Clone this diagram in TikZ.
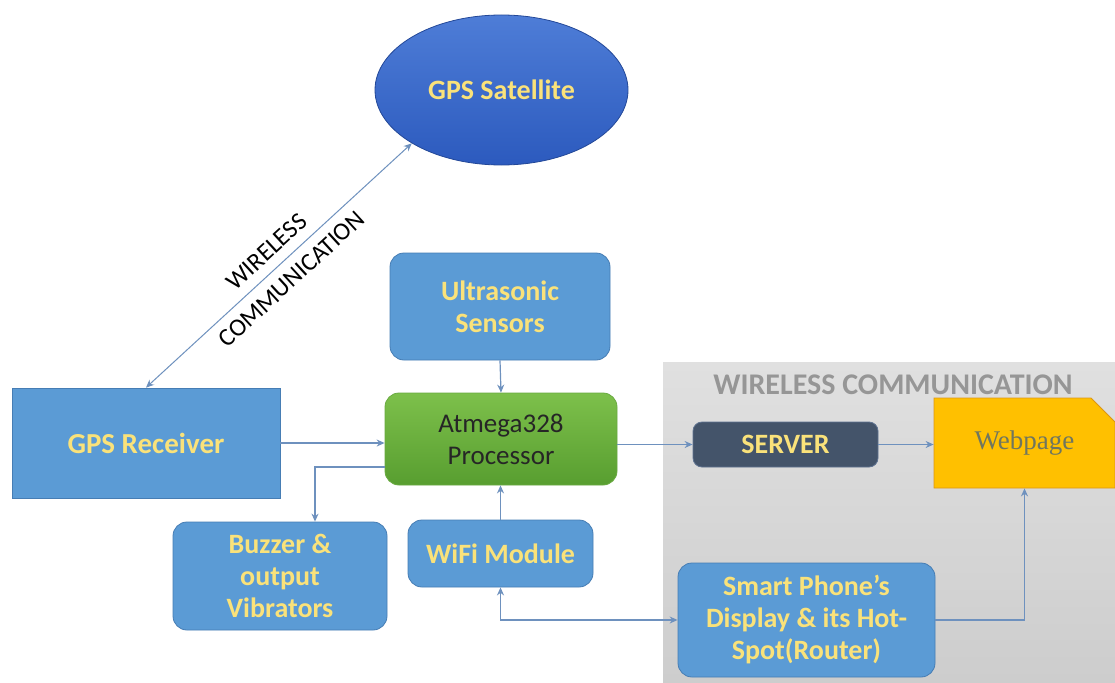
\documentclass[tikz,border=0pt]{standalone}
\usepackage{fontspec}
\setmainfont{Carlito}
\newfontfamily\webfont{Liberation Serif}
\usetikzlibrary{shapes.geometric,shapes.misc,arrows.meta,calc}
\definecolor{boxblue}{RGB}{91,155,213}
\definecolor{boxedge}{RGB}{70,125,180}
\definecolor{txtyel}{RGB}{250,226,122}
\definecolor{satTop}{RGB}{78,125,215}
\definecolor{satBot}{RGB}{44,90,190}
\definecolor{grnTop}{RGB}{125,192,75}
\definecolor{grnBot}{RGB}{88,158,48}
\definecolor{grnEdge}{RGB}{105,170,65}
\definecolor{srv}{RGB}{68,84,106}
\definecolor{srvEdge}{RGB}{95,115,145}
\definecolor{webfill}{RGB}{255,192,0}
\definecolor{webedge}{RGB}{220,150,20}
\definecolor{webtxt}{RGB}{112,118,95}
\definecolor{lnk}{RGB}{110,145,190}
\definecolor{greyTop}{RGB}{224,224,224}
\definecolor{greyBot}{RGB}{205,205,205}
\definecolor{titlegrey}{RGB}{150,150,150}
\tikzset{
  bluebox/.style={draw=boxedge, fill=boxblue, line width=0.8pt, text=txtyel,
    font=\fontsize{28}{32}\selectfont\bfseries, align=center, inner sep=0pt},
  rbox/.style={bluebox, rounded corners=14pt},
  lnkline/.style={draw=lnk, line width=1.2pt, -{Stealth[length=8pt,width=7pt]}},
  lnkboth/.style={draw=lnk, line width=1.2pt, {Stealth[length=8pt,width=7pt]}-{Stealth[length=8pt,width=7pt]}},
}
\begin{document}
\begin{tikzpicture}[x=1pt,y=-1pt]
\useasboundingbox (0,0) rectangle (1115,682);
\fill[white] (0,0) rectangle (1115,682);
% grey region
\shade[top color=greyTop, bottom color=greyBot] (663,362) rectangle (1115,682);
\node[text=titlegrey, font=\fontsize{30}{32}\selectfont\bfseries] (title) at (893,385) {WIRELESS COMMUNICATION};

% nodes
\node[ellipse, draw=satBot!80!black, line width=0.8pt, top color=satTop, bottom color=satBot,
  minimum width=253pt, minimum height=150pt, text=txtyel,
  font=\fontsize{28}{32}\selectfont\bfseries] (sat) at (501.5,90) {GPS Satellite};
\node[bluebox, minimum width=268pt, minimum height=110pt, font=\fontsize{29}{32}\selectfont\bfseries] (gps) at (146,443) {GPS Receiver};
\node[rbox, minimum width=220pt, minimum height=107pt] (ultra) at (500,306.5) {Ultrasonic\\Sensors};
\node[draw=grnEdge, line width=0.8pt, top color=grnTop, bottom color=grnBot, rounded corners=14pt,
  minimum width=232pt, minimum height=92pt, align=center, inner sep=0pt,
  font=\fontsize{27}{32}\selectfont, text=black!85] (atm) at (501,439) {Atmega328\\Processor};
\node[rbox, minimum width=214pt, minimum height=108pt] (buzz) at (280,576) {Buzzer \&\\output\\Vibrators};
\node[rbox, minimum width=185pt, minimum height=67pt] (wifi) at (500.5,553.5) {WiFi Module};
\node[draw=srvEdge, fill=srv, line width=0.8pt, rounded corners=9pt, minimum width=185pt,
  minimum height=45pt, inner sep=0pt, text=txtyel, font=\fontsize{28}{32}\selectfont\bfseries] (server) at (785.5,444.5) {SERVER};
\node[chamfered rectangle, chamfered rectangle corners=north east, chamfered rectangle xsep=12pt,
  chamfered rectangle ysep=12pt, draw=webedge, fill=webfill, line width=0.8pt,
  minimum width=181pt, minimum height=90pt, inner sep=0pt, text=webtxt,
  font=\webfont\fontsize{27}{32}\selectfont] (web) at (1024.5,443) {Webpage};
\node[rbox, minimum width=257pt, minimum height=114pt] (phone) at (806.5,620) {Smart Phone’s\\Display \& its Hot-\\Spot(Router)};

% connectors
\draw[lnkboth, line width=1pt] (gps.north) -- (sat.south west)
  node[midway, sloped, align=center, text=black, font=\fontsize{25}{37}\selectfont] {WIRELESS\\COMMUNICATION};
\draw[lnkline] (ultra.south) -- (atm.north);
\draw[lnkline] (gps.east) -- (gps.east -| atm.west);
\coordinate (bz) at ($(buzz.north)+(35,0)$);
\draw[lnkline] ($(atm.west)+(0,28)$) -| (bz);
\draw[lnkline] (wifi.north) -- (wifi.north |- atm.south);
\draw[lnkboth] (wifi.south) |- (phone.west);
\draw[lnkline] (phone.east) -| (web.south);
\draw[lnkline] (server.west -| atm.east) -- (server.west);
\draw[lnkline] (server.east) -- (server.east -| web.west);
\end{tikzpicture}
\end{document}
